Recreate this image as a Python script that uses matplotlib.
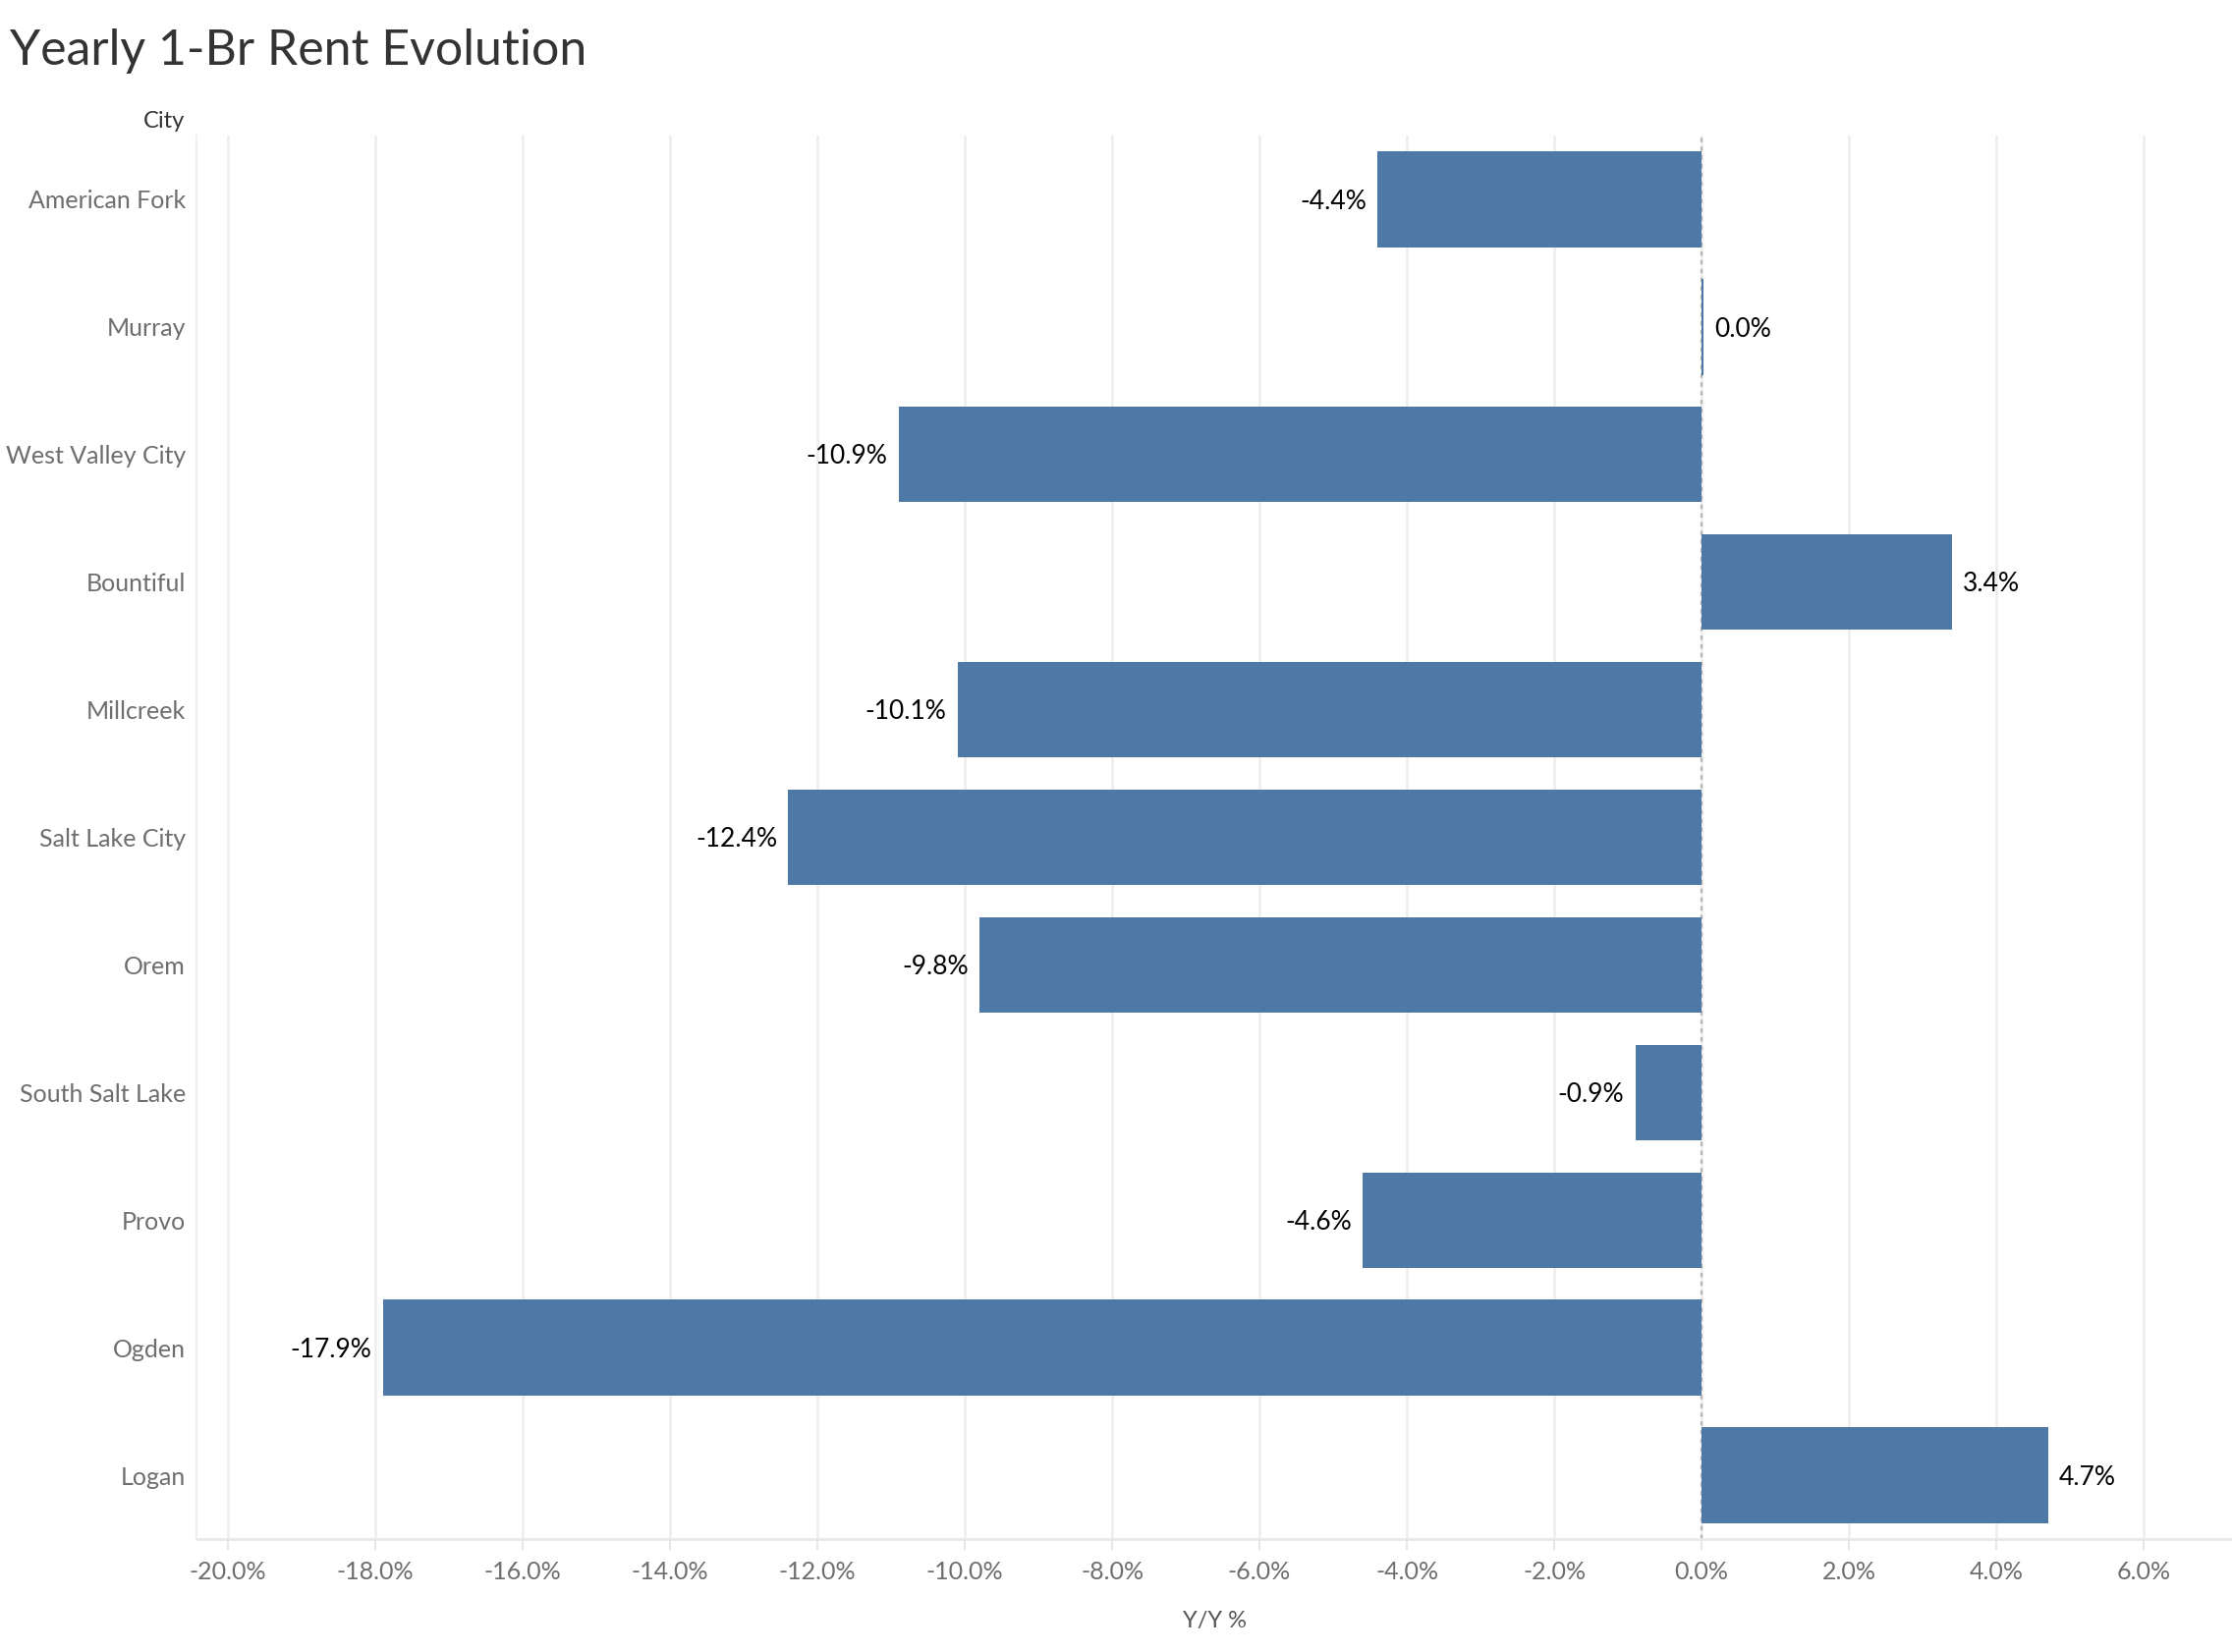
import matplotlib
matplotlib.use("Agg")
import matplotlib.pyplot as plt
from matplotlib.ticker import FuncFormatter, MultipleLocator

cities = ["American Fork", "Murray", "West Valley City", "Bountiful", "Millcreek",
          "Salt Lake City", "Orem", "South Salt Lake", "Provo", "Ogden", "Logan"]
yoy = [-4.4, 0.03, -10.9, 3.4, -10.1, -12.4, -9.8, -0.9, -4.6, -17.9, 4.7]
labels = ["-4.4%", "0.0%", "-10.9%", "3.4%", "-10.1%", "-12.4%", "-9.8%", "-0.9%", "-4.6%", "-17.9%", "4.7%"]

FONT = ["Lato", "DejaVu Sans"]
plt.rcParams['font.family'] = FONT

W, H, DPI = 2272, 1682, 200
fig = plt.figure(figsize=(W / DPI, H / DPI), dpi=DPI)
ax = fig.add_axes([200 / W, 1 - 1567 / H, (W - 200) / W, (1567 - 138) / H])

ypos = list(range(len(cities)))
ax.barh(ypos, yoy, height=0.75, color="#4e79a7", zorder=3)

for y, v, t in zip(ypos, yoy, labels):
    if v >= 0:
        ax.annotate(t, (v, y), xytext=(4, -0.8), textcoords="offset points",
                    ha="left", va="center", fontsize=9.5, color="#000000", zorder=4)
    else:
        ax.annotate(t, (v, y), xytext=(-4, -0.8), textcoords="offset points",
                    ha="right", va="center", fontsize=9.5, color="#000000", zorder=4)

ax.set_xlim(-20.43, 7.2)
ax.set_ylim(len(cities) - 0.5, -0.5)
ax.set_yticks(ypos)
ax.set_yticklabels(cities)
ax.xaxis.set_major_locator(MultipleLocator(2))
ax.xaxis.set_major_formatter(FuncFormatter(lambda x, p: f"{x:.1f}%"))

ax.grid(axis="x", color="#efefef", linewidth=1.0, zorder=0)
ax.axvline(0, color="#b5b5b5", linestyle=(0, (2, 2)), linewidth=0.8, zorder=2)

for s in ["top", "right"]:
    ax.spines[s].set_visible(False)
ax.spines["left"].set_color("#f0f0f0")
ax.spines["bottom"].set_color("#e8e8e8")
ax.spines["left"].set_linewidth(0.8)
ax.spines["bottom"].set_linewidth(1.0)

ax.tick_params(axis="y", length=0, pad=4, labelsize=9, labelcolor="#6e6e6e")
ax.tick_params(axis="x", length=4, color="#e8e8e8", pad=4, labelsize=9, labelcolor="#6e6e6e")
for lbl in ax.get_yticklabels():
    lbl.set_y(lbl.get_position()[1])

ax.set_xlabel("Y/Y %", fontsize=8.5, color="#555555", labelpad=10)

fig.text(10 / W, 1 - 52 / H, "Yearly 1-Br Rent Evolution", fontsize=18, color="#333333",
         ha="left", va="center")
fig.text(188 / W, 1 - 123 / H, "City", fontsize=8.5, color="#333333", ha="right", va="center")

fig.savefig("out.png", dpi=DPI, facecolor="white")
